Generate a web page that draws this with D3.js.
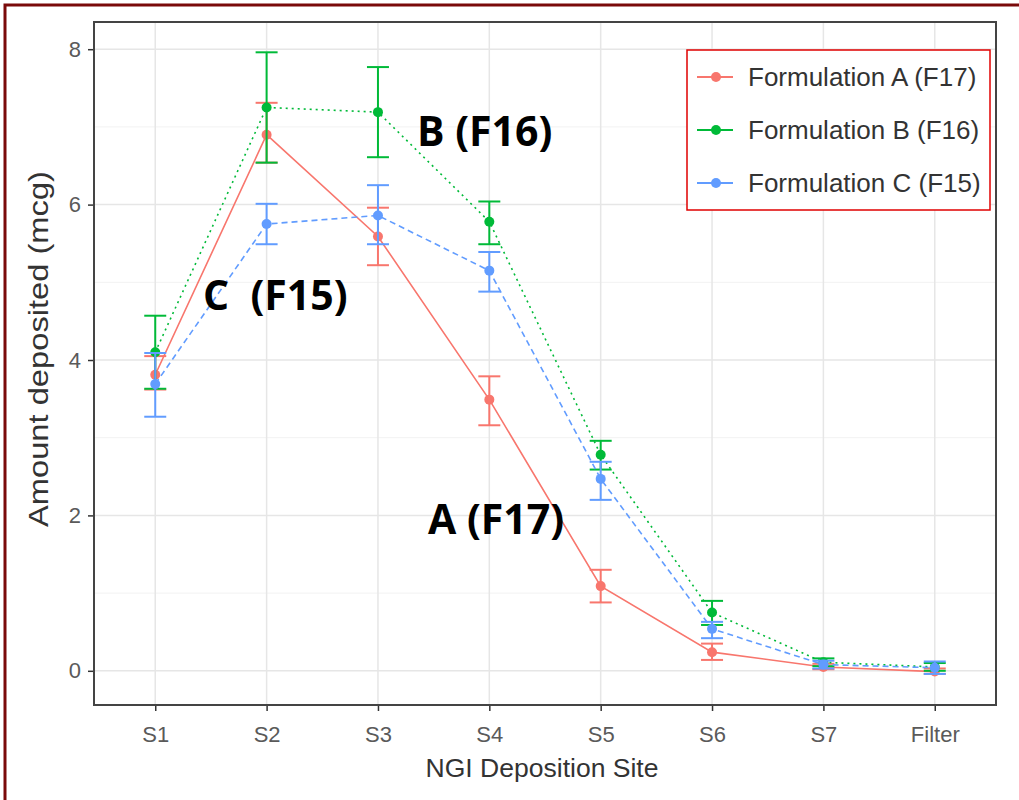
<!DOCTYPE html>
<html>
<head>
<meta charset="utf-8">
<script src="https://cdn.jsdelivr.net/npm/d3@7"></script>
<style>
  body { margin: 0; background: #fff; }
  svg { display: block; }
</style>
</head>
<body>
<div id="chart"></div>
<script>
let width = 1019, height = 800;

// deposition sites
const sites = ['S1', 'S2', 'S3', 'S4', 'S5', 'S6', 'S7', 'Filter'];
const yTicks = [0, 2, 4, 6, 8];

// mean and error bar limits per formulation
const meanA = [3.81, 6.90, 5.59, 3.49, 1.09, 0.24, 0.05, -0.01];
const lowA  = [3.62, 6.54, 5.22, 3.16, 0.88, 0.14, 0.02, -0.04];
const highA = [4.05, 7.31, 5.96, 3.79, 1.30, 0.35, 0.09, 0.03];

const meanB = [4.10, 7.25, 7.19, 5.78, 2.78, 0.75, 0.11, 0.05];
const lowB  = [3.63, 6.54, 6.61, 5.49, 2.59, 0.59, 0.06, 0.00];
const highB = [4.57, 7.96, 7.77, 6.04, 2.96, 0.90, 0.16, 0.10];

const meanC = [3.69, 5.75, 5.86, 5.15, 2.47, 0.54, 0.08, 0.04];
const lowC  = [3.27, 5.49, 5.49, 4.88, 2.20, 0.42, 0.03, -0.04];
const highC = [4.09, 6.01, 6.25, 5.39, 2.69, 0.63, 0.13, 0.12];

const seriesNames = ['Formulation A (F17)', 'Formulation B (F16)', 'Formulation C (F15)'];
const colors = ['#F8766D', '#00BA38', '#619CFF'];
const dashes = [null, '2,4', '6,4'];

const series = [
  {mean: meanA, low: lowA, high: highA},
  {mean: meanB, low: lowB, high: highB},
  {mean: meanC, low: lowC, high: highC}
];

const sans = 'Liberation Sans, Arial, sans-serif';

let svg = d3.select('#chart').append('svg')
  .attr('width', width).attr('height', height);

// outer frame
svg.append('rect')
  .attr('x', 5).attr('y', 5).attr('width', width + 10).attr('height', height + 10)
  .attr('fill', 'none').attr('stroke', '#7a0a0a').attr('stroke-width', 3);

const panel = {left: 94, top: 22, right: 996, bottom: 705};

let x = d3.scalePoint().domain(sites)
  .range([panel.left, panel.right]).padding(0.55);
let y = d3.scaleLinear().domain([-0.44, 8.35])
  .range([panel.bottom, panel.top]);

let g = svg.append('g');

// grid
[1, 3, 5, 7].forEach(function(v) {
  g.append('line').attr('x1', panel.left).attr('x2', panel.right)
    .attr('y1', y(v)).attr('y2', y(v))
    .attr('stroke', '#f2f2f2').attr('stroke-width', 1);
});
yTicks.forEach(function(v) {
  g.append('line').attr('x1', panel.left).attr('x2', panel.right)
    .attr('y1', y(v)).attr('y2', y(v))
    .attr('stroke', '#e6e6e6').attr('stroke-width', 1.5);
});
sites.forEach(function(s) {
  g.append('line').attr('x1', x(s)).attr('x2', x(s))
    .attr('y1', panel.top).attr('y2', panel.bottom)
    .attr('stroke', '#e6e6e6').attr('stroke-width', 1.5);
});

// axes
let xAxis = d3.axisBottom(x).tickSizeOuter(0).tickSize(6).tickPadding(15);
let yAxis = d3.axisLeft(y).tickValues(yTicks).tickSizeOuter(0).tickSize(6).tickPadding(7);

let xg = svg.append('g').attr('transform', 'translate(0,' + panel.bottom + ')').call(xAxis);
let yg = svg.append('g').attr('transform', 'translate(' + panel.left + ',0)').call(yAxis);
[xg, yg].forEach(function(a) {
  a.select('.domain').remove();
  a.selectAll('.tick line').attr('stroke', '#333').attr('stroke-width', 1.5);
  a.selectAll('.tick text').attr('fill', '#5a5a5a')
    .style('font-family', sans).style('font-size', '22px');
});

// series
series.forEach(function(s, i) {
  let pts = sites.map(function(site, j) {
    return {site: site, mean: s.mean[j], low: s.low[j], high: s.high[j]};
  });
  let line = d3.line().x(function(d) { return x(d.site); }).y(function(d) { return y(d.mean); });
  g.append('path').datum(pts)
    .attr('d', line).attr('fill', 'none')
    .attr('stroke', colors[i]).attr('stroke-width', 1.6)
    .attr('stroke-dasharray', dashes[i]);

  let eb = g.append('g').attr('stroke', colors[i]).attr('stroke-width', 2);
  pts.forEach(function(d) {
    eb.append('line').attr('x1', x(d.site)).attr('x2', x(d.site))
      .attr('y1', y(d.low)).attr('y2', y(d.high));
    [d.low, d.high].forEach(function(v) {
      eb.append('line').attr('x1', x(d.site) - 11).attr('x2', x(d.site) + 11)
        .attr('y1', y(v)).attr('y2', y(v));
    });
  });

  g.selectAll('.pt' + i).data(pts).enter().append('circle')
    .attr('cx', function(d) { return x(d.site); })
    .attr('cy', function(d) { return y(d.mean); })
    .attr('r', 5).attr('fill', colors[i]);
});

// panel border
svg.append('rect')
  .attr('x', panel.left).attr('y', panel.top)
  .attr('width', panel.right - panel.left).attr('height', panel.bottom - panel.top)
  .attr('fill', 'none').attr('stroke', '#444').attr('stroke-width', 2);

// axis titles
svg.append('text').attr('x', 542).attr('y', 777)
  .attr('text-anchor', 'middle').attr('fill', '#333')
  .attr('textLength', 233).attr('lengthAdjust', 'spacingAndGlyphs')
  .style('font-family', sans).style('font-size', '25px')
  .text('NGI Deposition Site');
svg.append('text')
  .attr('transform', 'translate(48,349) rotate(-90)')
  .attr('text-anchor', 'middle').attr('fill', '#333')
  .attr('textLength', 356).attr('lengthAdjust', 'spacingAndGlyphs')
  .style('font-family', sans).style('font-size', '28px')
  .text('Amount deposited (mcg)');

// legend
let lg = svg.append('g');
lg.append('rect').attr('x', 687).attr('y', 50).attr('width', 303).attr('height', 160)
  .attr('fill', '#fff').attr('stroke', '#e00000').attr('stroke-width', 1.5);
seriesNames.forEach(function(name, i) {
  let ly = 77 + i * 53;
  lg.append('line').attr('x1', 697).attr('x2', 733).attr('y1', ly).attr('y2', ly)
    .attr('stroke', colors[i]).attr('stroke-width', 2);
  lg.append('circle').attr('cx', 716).attr('cy', ly).attr('r', 5).attr('fill', colors[i]);
  lg.append('text').attr('x', 748).attr('y', ly + 9).attr('fill', '#333')
    .style('font-family', sans).style('font-size', '26px')
    .text(name);
});

// annotations
const notes = [
  {text: 'B (F16)', x: 417, y: 146},
  {text: 'C  (F15)', x: 203, y: 310},
  {text: 'A (F17)', x: 428, y: 534}
];
notes.forEach(function(n) {
  svg.append('text').attr('x', n.x).attr('y', n.y).attr('fill', '#000')
    .attr('xml:space', 'preserve').style('white-space', 'pre')
    .style('font-family', 'Open Sans, sans-serif').style('font-weight', 'bold')
    .style('font-size', '41px').text(n.text);
});
</script>
</body>
</html>
